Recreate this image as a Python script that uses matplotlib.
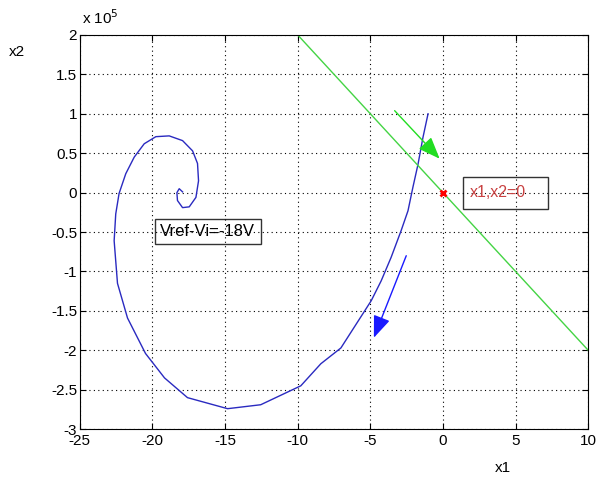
import matplotlib.pyplot as plt
import numpy as np
from matplotlib.ticker import FuncFormatter

plt.rcParams['font.family'] = ['Liberation Sans', 'DejaVu Sans']

# Phase trajectory (x2 in units of 1e5)
x1 = [-1.03, -1.38, -1.72, -2.07, -2.41, -2.88, -3.57, -4.26, -4.94, -7.03,
      -8.41, -9.79, -12.55, -14.83, -17.59, -19.17, -20.48, -21.72, -22.41,
      -22.64, -22.53, -22.30, -21.84, -21.26, -20.57, -19.77, -18.85, -17.93,
      -17.24, -16.90, -16.83, -17.01, -17.47, -17.93, -18.28, -18.32, -18.16,
      -17.93]
x2 = [1.00, 0.70, 0.36, 0.07, -0.23, -0.48, -0.82, -1.12, -1.37, -1.97,
      -2.17, -2.45, -2.69, -2.74, -2.60, -2.35, -2.04, -1.59, -1.15,
      -0.61, -0.27, -0.01, 0.24, 0.45, 0.62, 0.71, 0.72, 0.66,
      0.53, 0.37, 0.15, -0.06, -0.18, -0.19, -0.10, 0.00, 0.05,
      0.01]

# Switching line
line_x1 = [-10, 10]
line_x2 = [2, -2]

# Arrows (start, end)
green_arrow = [(-3.33, 1.04), (-0.23, 0.43)]
blue_arrow = [(-2.53, -0.80), (-4.76, -1.84)]

fig = plt.figure(figsize=(5.96, 4.79), dpi=100)
ax = fig.add_axes([0.134, 0.104, 0.853, 0.823])

ax.plot(x1, x2, color='#2a2ac0', lw=1.0)
ax.plot(line_x1, line_x2, color='#44d444', lw=1.0)
ax.plot([0], [0], 'x', color='red', ms=5, mew=2)

ax.annotate('', xy=green_arrow[1], xytext=green_arrow[0],
            arrowprops=dict(arrowstyle='-|>,head_length=0.9,head_width=0.35',
                            color='#22dd22', lw=1.0, mutation_scale=15,
                            shrinkA=0, shrinkB=0))
ax.annotate('', xy=blue_arrow[1], xytext=blue_arrow[0],
            arrowprops=dict(arrowstyle='-|>,head_length=0.9,head_width=0.35',
                            color='#1a1aff', lw=1.0, mutation_scale=15,
                            shrinkA=0, shrinkB=0))

# Text boxes
ax.add_patch(plt.Rectangle((1.38, -0.21), 5.86, 0.41, fill=False,
                           edgecolor='#333333', lw=1.0))
ax.text(1.85, 0.0, 'x1,x2=0', color='#c84040', fontsize=11.5, va='center')
ax.add_patch(plt.Rectangle((-19.86, -0.65), 7.31, 0.32, fill=False,
                           edgecolor='#333333', lw=1.0))
ax.text(-19.5, -0.49, 'Vref-Vi=-18V', color='black', fontsize=12, va='center')

ax.set_xlim(-25, 10)
ax.set_ylim(-3, 2)
ax.set_xticks(np.arange(-25, 11, 5))
ax.set_yticks(np.arange(-3, 2.1, 0.5))
ax.yaxis.set_major_formatter(FuncFormatter(lambda v, p: '%g' % v))
ax.xaxis.set_major_formatter(FuncFormatter(lambda v, p: '%g' % v))
ax.tick_params(direction='in', top=True, right=True, labelsize=11, length=4)
ax.tick_params(axis='y', pad=2)
ax.grid(True, color='black', linestyle=(0, (1, 3)), lw=0.8)

fig.text(0.138, 0.944, 'x 10$^{5}$', fontsize=11, va='bottom')
fig.text(0.028, 0.891, 'x2', fontsize=11, ha='center', va='center')
fig.text(0.844, 0.023, 'x1', fontsize=11, ha='center', va='center')

plt.savefig('out.png', dpi=100)
